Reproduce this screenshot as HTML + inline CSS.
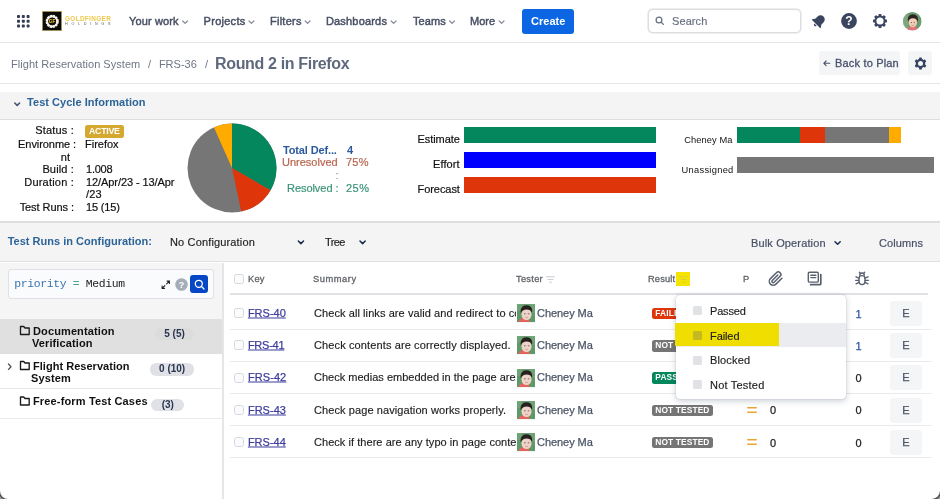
<!DOCTYPE html>
<html lang="en">
<head>
<meta charset="utf-8">
<title>Round 2 in Firefox - Test Cycle</title>
<style>
*{box-sizing:border-box;margin:0;padding:0}
html,body{width:940px;height:499px;overflow:hidden;background:#b4b4b4}
body{font-family:"Liberation Sans",Arial,sans-serif;font-size:12px;color:#172b4d;position:relative;-webkit-font-smoothing:antialiased}
#app{position:absolute;left:0;top:0;width:940px;height:499px;background:#fff;border-radius:0 0 8.3px 8px;overflow:hidden;box-shadow:0 0 0 1.3px #505050,0 0 2.5px 1.5px #707070}
.t{position:absolute;white-space:nowrap;line-height:1;transform:translateY(-50%)}
.r{text-align:right;transform:translate(-100%,-50%)}
.c{text-align:center;transform:translate(-50%,-50%)}
.b{font-weight:700}
.m{-webkit-text-stroke:0.45px currentColor}
.box{position:absolute}
.hl{position:absolute;height:1px;background:#e3e4e8}
svg{position:absolute;overflow:visible}
/* nav */
.nav{color:#485064;font-size:11px}
.chev{position:absolute;width:6px;height:4px}
/* breadcrumbs */
.bc{color:#6f7685;font-size:11px}
/* info */
.lab{font-size:11px;color:#111;-webkit-text-stroke:0.2px #111}
.val{font-size:11px;color:#111;-webkit-text-stroke:0.2px #111}
/* table */
.th{font-size:9.3px;color:#5f6368;-webkit-text-stroke:0.3px #5f6368}
.key{font-size:11px;color:#3d3c9e;text-decoration:underline;-webkit-text-stroke:0.25px #3d3c9e;text-decoration-thickness:0.8px;text-underline-offset:1.3px}
.sum{font-size:11px;color:#1d1d1f;-webkit-text-stroke:0.15px #1d1d1f}
.tester{font-size:11px;color:#4b5567;-webkit-text-stroke:0.25px #4b5567}
.badge{position:absolute;height:11.6px;border-radius:2.5px;color:#fff;font-weight:700;font-size:8.4px;line-height:11.9px;padding:0 3.4px 0 3.5px;white-space:nowrap;letter-spacing:.12px}
.cb{position:absolute;width:10px;height:10px;border:1px solid #d5d8dd;border-radius:2.5px;background:#fafbfc}
.ebtn{position:absolute;left:890px;width:32px;height:25px;background:#f4f5f7;border-radius:3px;color:#4b5567;font-size:11px;text-align:center;line-height:25px;-webkit-text-stroke:0.25px currentColor}
.num{font-size:11px;color:#222;-webkit-text-stroke:0.25px currentColor}
.cnt{position:absolute;height:12.4px;border-radius:6.2px;background:#dfe1e6;color:#2a3550;font-weight:700;font-size:10px;line-height:12.6px;text-align:center}
.tree{font-size:11px;font-weight:700;color:#111}
.dd{font-size:11px;color:#1d1d1f;-webkit-text-stroke:0.15px currentColor}
.sq{position:absolute;left:693px;width:9px;height:9px;background:#e1e2e6;border-radius:1.5px}
</style>
</head>
<body>
<div id="app">

<!-- ============ TOP NAV ============ -->
<div class="box" style="left:0;top:0;width:940px;height:42px;background:#fff"></div>
<div class="hl" style="left:0;top:42px;width:940px;background:#e4e5e9"></div>
<svg style="left:17px;top:15px" width="13" height="13" viewBox="0 0 13 13">
  <g fill="#343d52">
    <rect x="0" y="0" width="3" height="3" rx=".8"/><rect x="4.8" y="0" width="3" height="3" rx=".8"/><rect x="9.6" y="0" width="3" height="3" rx=".8"/>
    <rect x="0" y="4.8" width="3" height="3" rx=".8"/><rect x="4.8" y="4.8" width="3" height="3" rx=".8"/><rect x="9.6" y="4.8" width="3" height="3" rx=".8"/>
    <rect x="0" y="9.6" width="3" height="3" rx=".8"/><rect x="4.8" y="9.6" width="3" height="3" rx=".8"/><rect x="9.6" y="9.6" width="3" height="3" rx=".8"/>
  </g>
</svg>
<!-- logo -->
<svg style="left:41.5px;top:11px" width="20" height="20" viewBox="0 0 20 20">
  <rect x=".3" y=".3" width="19.4" height="19.4" fill="#0a0a0a" stroke="#d9b65c" stroke-width=".6"/>
  <circle cx="10.2" cy="10.4" r="5.3" fill="none" stroke="#f5f3ec" stroke-width="2.6" stroke-dasharray="2.2 .55"/>
  <circle cx="10.2" cy="10.4" r="5" fill="none" stroke="#f5f3ec" stroke-width="1.6"/>
  <circle cx="10.2" cy="10.4" r="3.7" fill="#17140c"/>
  <text x="10.2" y="12.1" font-size="4.8" font-weight="700" fill="#f0c53f" text-anchor="middle" font-family="Liberation Sans, sans-serif">GF</text>
</svg>
<div class="t b" id="gold" style="left:65.0px;top:19.4px;font-size:6.4px;color:#efc94c;letter-spacing:0.35px">GOLDFINGER</div>
<div class="t" id="hold" style="left:65.0px;top:24.6px;font-size:3.7px;color:#5a5a5a;letter-spacing:3.73px">HOLDINGS</div>

<div class="t nav m" id="n1" style="left:129.1px;top:21px;letter-spacing:0.12px">Your work</div>
<div class="t nav m" id="n2" style="left:203.6px;top:21px;letter-spacing:0.27px">Projects</div>
<div class="t nav m" id="n3" style="left:270.0px;top:21px;letter-spacing:0.25px">Filters</div>
<div class="t nav m" id="n4" style="left:325.9px;top:21px;letter-spacing:0.19px">Dashboards</div>
<div class="t nav m" id="n5" style="left:413.0px;top:21px;letter-spacing:0.09px">Teams</div>
<div class="t nav m" id="n6" style="left:470.0px;top:21px;letter-spacing:0.00px">More</div>
<svg width="940" height="42" style="left:0;top:0" fill="none" stroke="#858b98" stroke-width="1.2" stroke-linecap="round" stroke-linejoin="round">
  <path d="M182.7 21l2.4 2.4 2.4-2.4"/>
  <path d="M249.0 21l2.4 2.4 2.4-2.4"/>
  <path d="M305.2 21l2.4 2.4 2.4-2.4"/>
  <path d="M391.2 21l2.4 2.4 2.4-2.4"/>
  <path d="M449.7 21l2.4 2.4 2.4-2.4"/>
  <path d="M499.2 21l2.4 2.4 2.4-2.4"/>
</svg>
<div class="box" style="left:522px;top:9px;width:52px;height:24.5px;background:#0c66e4;border-radius:3px"></div>
<div class="t b" id="create" style="left:531.0px;top:21px;font-size:11px;color:#fff;letter-spacing:0.03px">Create</div>

<div class="box" style="left:648px;top:8.8px;width:153px;height:24.4px;border:1.6px solid #dcdde1;border-radius:4.5px;background:#fff;box-shadow:0 0 0 .5px rgba(120,120,130,.25)"></div>
<svg style="left:655.3px;top:16.4px" width="9.6" height="9.6" viewBox="0 0 12 12" fill="none" stroke="#667085" stroke-width="1.6" stroke-linecap="round"><circle cx="5" cy="5" r="3.6"/><path d="M7.8 7.8l2.7 2.7"/></svg>
<div class="t" id="search" style="left:672.0px;top:21px;font-size:11px;color:#6b7280;letter-spacing:0.09px;-webkit-text-stroke:0.2px #6b7280">Search</div>

<!-- bell -->
<svg style="left:810px;top:12px" width="18" height="18" viewBox="0 0 18 18">
  <g transform="rotate(45 9 9)" fill="#3a4660">
    <path d="M9 2.6c-2.5 0-4.2 1.800-4.2 4.300v3.1L3.1 12.2c-.3.5 0 1 .6 1h10.6c.6 0 .9-.5.6-1l-1.700-2.2V6.900C13.2 4.400 11.5 2.6 9 2.6z"/>
    <path d="M7.400 14a1.6 1.6 0 0 0 3.2 0z"/>
  </g>
</svg>
<!-- help -->
<svg style="left:841px;top:13px" width="16" height="16" viewBox="0 0 16 16">
  <circle cx="8" cy="8" r="7.9" fill="#3a4660"/>
  <text x="8" y="12.3" font-size="12" font-weight="700" fill="#fff" text-anchor="middle" font-family="Liberation Sans, sans-serif">?</text>
</svg>
<!-- gear -->
<svg style="left:871.7px;top:13px" width="16" height="16" viewBox="0 0 16 16">
  <g transform="translate(8 8)">
    <g fill="#3a4660">
      <rect x="-1.5" y="-7" width="3" height="14" rx=".7"/>
      <rect x="-1.5" y="-7" width="3" height="14" rx=".7" transform="rotate(45)"/>
      <rect x="-1.5" y="-7" width="3" height="14" rx=".7" transform="rotate(90)"/>
      <rect x="-1.5" y="-7" width="3" height="14" rx=".7" transform="rotate(135)"/>
      <circle r="5.6"/>
    </g>
    <circle r="3.6" fill="#fff"/>
  </g>
</svg>
<!-- avatar round -->
<svg style="left:903px;top:11.8px" width="18.6" height="18.6" viewBox="0 0 19 19">
  <defs><clipPath id="avc"><circle cx="9.5" cy="9.5" r="9.5"/></clipPath></defs>
  <g clip-path="url(#avc)">
    <rect width="19" height="19" fill="#6a9a70"/>
    <rect x="0" y="0" width="5" height="19" fill="#84ad86" opacity=".7"/>
    <path d="M3.5 19c.6-2.7 3-4.2 6.3-4.2s6 1.500 6.7 4.2z" fill="#e4727a"/>
    <ellipse cx="10" cy="10.6" rx="4.3" ry="5.1" fill="#f3cdb8"/>
    <path d="M5.2 10.3C4 5.2 6.6 2.3 10.1 2.3s6.3 2.900 5 8c-.7-2.7-2.3-3.800-5-3.800s-4.1 1.3-4.900 3.800z" fill="#2b2422"/>
    <path d="M8 10.800h1.2M11 10.800h1.2" stroke="#4a3a34" stroke-width=".7" fill="none"/>
    <path d="M8.6 13.400q1.500 1 3 0" stroke="#c9807a" stroke-width=".7" fill="none"/>
  </g>
</svg>

<!-- ============ BREADCRUMB ============ -->
<div class="t bc" id="bc1" style="left:11.1px;top:64.4px;letter-spacing:0.03px">Flight Reservation System</div>
<div class="t bc" id="bc2" style="left:148.0px;top:64.4px;letter-spacing:0.00px">/</div>
<div class="t bc" id="bc3" style="left:158.9px;top:64.4px;letter-spacing:0.00px">FRS-36</div>
<div class="t bc" id="bc4" style="left:205.0px;top:64.4px;letter-spacing:0.00px">/</div>
<div class="t b" id="title" style="left:215.0px;top:63.5px;font-size:16px;color:#5f697d;letter-spacing:-0.34px">Round 2 in Firefox</div>
<div class="box" style="left:818.5px;top:51px;width:81.5px;height:24px;background:#f4f5f7;border-radius:3px"></div>
<svg style="left:822.6px;top:60.2px" width="7.4" height="6.6" viewBox="0 0 9 8" fill="none" stroke="#47526a" stroke-width="1.35" stroke-linecap="round" stroke-linejoin="round"><path d="M8.3 4H1M3.8 1.2L1 4l2.8 2.8"/></svg>
<div class="t" id="back" style="left:835.0px;top:63px;font-size:11px;color:#47526a;letter-spacing:0.18px;-webkit-text-stroke:0.3px #47526a">Back to Plan</div>
<div class="box" style="left:908px;top:51px;width:24px;height:24px;background:#f4f5f7;border-radius:3px"></div>
<svg style="left:913.5px;top:57px" width="13" height="13" viewBox="0 0 13 13">
  <g transform="translate(6.5 6.5)">
    <g fill="#344563">
      <rect x="-1.4" y="-6" width="2.8" height="12" rx=".6"/>
      <rect x="-1.4" y="-6" width="2.8" height="12" rx=".6" transform="rotate(60)"/>
      <rect x="-1.4" y="-6" width="2.8" height="12" rx=".6" transform="rotate(120)"/>
      <circle r="4.7"/>
    </g>
    <circle r="2.5" fill="#f4f5f7"/>
  </g>
</svg>
<div class="hl" style="left:0;top:83px;width:940px;background:#e6e7ea"></div>

<!-- ============ SECTION HEADER ============ -->
<div class="box" style="left:0;top:91.5px;width:940px;height:27px;background:#f4f4f4"></div>
<div class="hl" style="left:0;top:118.5px;width:940px;height:1.5px;background:#dedede"></div>
<svg style="left:14px;top:102.3px" width="6.4" height="4.8" viewBox="0 0 8 6" fill="none" stroke="#44506a" stroke-width="1.9" stroke-linecap="round" stroke-linejoin="round"><path d="M1 1.2l3 3 3-3"/></svg>
<div class="t b" id="tci" style="left:27.1px;top:102px;font-size:11px;color:#2d6498;letter-spacing:0.03px">Test Cycle Information</div>

<!-- ============ INFO PANEL ============ -->
<div class="t lab r" id="l1" style="left:74.0px;top:129.8px;letter-spacing:0.19px">Status :</div>
<div class="t lab r" id="l2" style="left:76.0px;top:143.8px;letter-spacing:-0.07px">Environme :</div>
<div class="t lab r" id="l2b" style="left:70.0px;top:157.3px;letter-spacing:0.00px">nt</div>
<div class="t lab r" id="l3" style="left:74.0px;top:168.8px;letter-spacing:0.15px">Build :</div>
<div class="t lab r" id="l4" style="left:74.0px;top:182.3px;letter-spacing:0.20px">Duration :</div>
<div class="t lab r" id="l5" style="left:74.0px;top:206.8px;letter-spacing:-0.06px">Test Runs :</div>
<div class="box" style="left:85px;top:125px;width:39px;height:12.5px;background:#d5a92f;border-radius:2.5px"></div>
<div class="t b" id="active" style="left:89.0px;top:131.3px;font-size:8.8px;color:#fff;letter-spacing:-0.27px">ACTIVE</div>
<div class="t val" id="v2" style="left:85.0px;top:143.8px;letter-spacing:0.00px">Firefox</div>
<div class="t val" id="v3" style="left:86.0px;top:168.8px;letter-spacing:-0.23px">1.008</div>
<div class="t val" id="v4" style="left:86.0px;top:182.3px;letter-spacing:-0.08px">12/Apr/23 - 13/Apr</div>
<div class="t val" id="v4b" style="left:86.0px;top:194.3px;letter-spacing:0.21px">/23</div>
<div class="t val" id="v5" style="left:86.0px;top:206.8px;letter-spacing:-0.15px">15 (15)</div>

<!-- pie -->
<svg style="left:187.2px;top:123.3px" width="90" height="90" viewBox="-45 -45 90 90">
  <circle r="44.5" fill="#767676"/>
  <path d="M0 0L0 -44.5A44.5 44.5 0 0 1 38.54 22.25Z" fill="#04875c"/>
  <path d="M0 0L38.54 22.25A44.5 44.5 0 0 1 9.25 43.53Z" fill="#de350b"/>
  <path d="M0 0L-18.1 -40.65A44.5 44.5 0 0 1 0 -44.5Z" fill="#ffab00"/>
</svg>
<div class="t b" id="s1" style="left:283.0px;top:149.5px;font-size:11px;color:#2a5a9c;letter-spacing:-0.14px">Total Def...</div>
<div class="t b" id="s1v" style="left:347.0px;top:149.5px;font-size:11px;color:#2a5a9c;letter-spacing:0.00px">4</div>
<div class="t" id="s2" style="left:282.0px;top:162.3px;font-size:11px;color:#b9654f;letter-spacing:0.00px;-webkit-text-stroke:0.2px #b9654f">Unresolved</div>
<div class="t" id="s2v" style="left:346.0px;top:162.3px;font-size:11px;color:#b9654f;letter-spacing:0.20px;-webkit-text-stroke:0.2px #b9654f">75%</div>
<div class="t" id="s2c" style="left:335.5px;top:174.5px;font-size:11px;color:#8c7d78">:</div>
<div class="t" id="s3" style="left:287.0px;top:188.3px;font-size:11px;color:#3b9479;letter-spacing:-0.05px;-webkit-text-stroke:0.2px #3b9479">Resolved :</div>
<div class="t" id="s3v" style="left:346.0px;top:188.3px;font-size:11px;color:#3b9479;letter-spacing:0.45px;-webkit-text-stroke:0.2px #3b9479">25%</div>

<!-- bars -->
<div class="t lab r" id="e1" style="left:459.8px;top:139.2px;letter-spacing:-0.06px">Estimate</div>
<div class="t lab r" id="e2" style="left:459.8px;top:164.2px;letter-spacing:0.13px">Effort</div>
<div class="t lab r" id="e3" style="left:459.8px;top:189.2px;letter-spacing:-0.07px">Forecast</div>
<div class="box" style="left:464.2px;top:127px;width:192px;height:16px;background:#04875c"></div>
<div class="box" style="left:464.2px;top:152px;width:192px;height:16px;background:#0000fe"></div>
<div class="box" style="left:464.2px;top:177px;width:192px;height:16px;background:#de350b"></div>

<div class="t r" id="a1" style="left:732.6px;top:140.9px;font-size:9.3px;color:#111;letter-spacing:0.10px">Cheney Ma</div>
<div class="t r" id="a2" style="left:733.6px;top:170.6px;font-size:9.3px;color:#111;letter-spacing:0.30px">Unassigned</div>
<div class="box" style="left:737px;top:127px;width:64px;height:16px;background:#04875c"></div>
<div class="box" style="left:800px;top:127px;width:26px;height:16px;background:#de350b"></div>
<div class="box" style="left:825.3px;top:127px;width:64px;height:16px;background:#767676"></div>
<div class="box" style="left:888.5px;top:127px;width:12.7px;height:16px;background:#ffab00"></div>
<div class="box" style="left:737px;top:157px;width:197px;height:16px;background:#767676"></div>

<!-- ============ TOOLBAR ============ -->
<div class="hl" style="left:0;top:221px;width:940px;height:1.5px;background:#dedede"></div>
<div class="box" style="left:0;top:222.5px;width:940px;height:39px;background:#f4f4f5"></div>
<div class="hl" style="left:0;top:261px;width:940px;height:1.3px;background:#e0e0e2"></div>
<div class="t b" id="trc" style="left:7.7px;top:240.5px;font-size:11px;color:#2d6498;letter-spacing:0.01px">Test Runs in Configuration:</div>
<div class="t" id="noc" style="left:170.0px;top:242px;font-size:11px;color:#1d1d1f;letter-spacing:0.15px;-webkit-text-stroke:0.15px #1d1d1f">No Configuration</div>
<div class="t" id="tree" style="left:325.0px;top:242px;font-size:11px;color:#1d1d1f;letter-spacing:-0.60px;-webkit-text-stroke:0.15px #1d1d1f">Tree</div>
<div class="t" id="bulk" style="left:751.0px;top:242.5px;font-size:11px;color:#475066;letter-spacing:0.14px;-webkit-text-stroke:0.2px #475066">Bulk Operation</div>
<div class="t" id="cols" style="left:879.0px;top:242.5px;font-size:11px;color:#475066;letter-spacing:0.10px;-webkit-text-stroke:0.2px #475066">Columns</div>
<svg width="940" height="20" style="left:0;top:232px" fill="none" stroke="#172b4d" stroke-width="1.5" stroke-linecap="round" stroke-linejoin="round">
  <path d="M298.3 9l2.6 2.6 2.6-2.6"/>
  <path d="M360 9l2.6 2.6 2.6-2.6"/>
  <path d="M835 9.7l2.6 2.6 2.6-2.6"/>
</svg>

<!-- ============ LEFT PANEL ============ -->
<div class="box" style="left:0;top:262.5px;width:222px;height:57px;background:#f5f5f6"></div>
<div class="box" style="left:222px;top:262.5px;width:1.5px;height:237px;background:#e6e6e8"></div>
<div class="box" style="left:8px;top:269px;width:206px;height:29.5px;background:#fafbfc;border:1px solid #dfe1e6;border-radius:3px"></div>
<div class="t" id="jql" style="left:14.2px;top:284.6px;font-family:'Liberation Mono','DejaVu Sans Mono',monospace;font-size:11.4px;color:#222;letter-spacing:-0.34px"><span style="color:#3b73af">priority</span> <span style="color:#4aa68a">=</span> Medium</div>
<svg style="left:160.7px;top:279.7px" width="9.5" height="9.5" viewBox="0 0 11 11" fill="none" stroke="#222" stroke-width="1.3" stroke-linecap="round"><path d="M6.5 4.5l3-3M7 1.3h2.7v2.7M4.5 6.5l-3 3M1.3 7v2.7h2.7" /></svg>
<svg style="left:174.5px;top:277.5px" width="13" height="13" viewBox="0 0 13 13"><circle cx="6.5" cy="6.5" r="6.3" fill="#a5adba"/><text x="6.5" y="9.8" font-size="9" font-weight="700" fill="#fff" text-anchor="middle" font-family="Liberation Sans, sans-serif">?</text></svg>
<div class="box" style="left:190px;top:275px;width:18px;height:18px;background:#0747c5;border-radius:3px"></div>
<svg style="left:193.5px;top:278.5px" width="11" height="11" viewBox="0 0 11 11" fill="none" stroke="#fff" stroke-width="1.3" stroke-linecap="round"><circle cx="4.8" cy="4.8" r="3.5"/><path d="M7.5 7.5l2.5 2.5"/></svg>

<div class="box" style="left:0;top:318.5px;width:222px;height:35.5px;background:#e0e0e0"></div>
<div class="hl" style="left:0;top:388px;width:222px;background:#e9e9eb"></div>
<div class="hl" style="left:0;top:418px;width:222px;background:#e9e9eb"></div>
<svg width="222" height="110" style="left:0;top:317.7px" fill="none" stroke="#1a1a1a" stroke-width="1.35" stroke-linejoin="round">
  <path d="M20.5 8.5h3.2l1.3 1.5h4.2v6.5h-8.7z"/>
  <path d="M20.5 43.5h3.2l1.3 1.5h4.2v6.5h-8.7z"/>
  <path d="M20.5 79h3.2l1.3 1.5h4.2v6.5h-8.7z"/>
  <path d="M8.5 46l2.5 2.7-2.5 2.7" stroke="#555" stroke-linecap="round"/>
</svg>
<div class="t tree" id="t1" style="left:33.0px;top:330.5px;letter-spacing:0.12px">Documentation</div>
<div class="t tree" id="t1b" style="left:31.9px;top:343.0px;letter-spacing:0.12px">Verification</div>
<div class="t tree" id="t2" style="left:33.0px;top:365.5px;letter-spacing:0.03px">Flight Reservation</div>
<div class="t tree" id="t2b" style="left:30.9px;top:378.0px;letter-spacing:0.16px">System</div>
<div class="t tree" id="t3" style="left:33.0px;top:401.3px;letter-spacing:0.15px">Free-form Test Cases</div>
<div class="cnt" id="c1" style="left:155px;top:327.8px;width:39px;background:#dcdcdc">5 (5)</div>
<div class="cnt" id="c2" style="left:150px;top:363.2px;width:44.3px">0 (10)</div>
<div class="cnt" id="c3" style="left:151.3px;top:398.6px;width:33px">(3)</div>

<!-- ============ TABLE ============ -->
<div class="cb" style="left:234.2px;top:274.2px"></div>
<div class="t th" id="h1" style="left:248.1px;top:279.7px;letter-spacing:0.20px">Key</div>
<div class="t th" id="h2" style="left:313.1px;top:279.7px;letter-spacing:0.54px">Summary</div>
<div class="t th" id="h3" style="left:516.0px;top:279.7px;letter-spacing:0.27px">Tester</div>
<div class="t th" id="h4" style="left:648.0px;top:279.7px;letter-spacing:0.15px">Result</div>
<div class="t th" id="h5" style="left:743.0px;top:279.7px;font-size:9.3px;letter-spacing:0.00px">P</div>
<svg style="left:545.5px;top:276px" width="9" height="7" viewBox="0 0 9 7" fill="none" stroke="#c7cbd3" stroke-width="1" stroke-linecap="round"><path d="M.5 .8h8M2 3.5h5M3.5 6.2h2"/></svg>
<div class="box" style="left:676px;top:272px;width:14px;height:14px;background:#f5e400"></div>
<svg style="left:678.5px;top:276px" width="9" height="7" viewBox="0 0 9 7" fill="none" stroke="#d9cf3a" stroke-width="1" stroke-linecap="round"><path d="M.5 .8h8M2 3.5h5M3.5 6.2h2"/></svg>
<svg style="left:767.6px;top:270.6px" width="15.6" height="15.6" viewBox="0 0 24 24" fill="none" stroke="#59616f" stroke-width="2.3" stroke-linecap="round" stroke-linejoin="round"><path d="M21.44 11.05l-9.19 9.19a6 6 0 0 1-8.49-8.49l9.19-9.19a4 4 0 0 1 5.66 5.66l-9.2 9.19a2 2 0 0 1-2.83-2.83l8.49-8.48"/></svg>
<svg style="left:806.5px;top:271.3px" width="16" height="16" viewBox="0 0 16 16" fill="none" stroke="#59616f" stroke-width="1.4" stroke-linejoin="round" stroke-linecap="round"><rect x="1.3" y="1.3" width="10" height="9.8" rx="1.2"/><path d="M3.8 4.3h5M3.8 6.6h5"/><path d="M13.8 3.5v9.2a1 1 0 0 1-1 1H3.6" stroke-width="1.7"/></svg>
<svg style="left:853.5px;top:270.8px" width="16" height="16" viewBox="0 0 16 16" fill="none" stroke="#59616f" stroke-width="1.35" stroke-linecap="round" stroke-linejoin="round"><rect x="5" y="4.6" width="6" height="9" rx="3"/><path d="M5.7 4.3a2.3 2.3 0 0 1 4.6 0"/><path d="M6.3 2.4L5.4 1.3M9.7 2.4l.9-1.100"/><path d="M5 7.2L2 5.8M5 9.3H1.6M5 11.3l-3 1.5M11 7.2l3-1.4M11 9.3h3.4M11 11.3l3 1.5"/></svg>
<div class="hl" style="left:230px;top:293px;width:698px;height:1.5px;background:#e0e1e4"></div>
<div class="hl" style="left:230px;top:328.5px;width:702px;background:#e9eaed"></div>
<div class="cb" style="left:234.2px;top:308.1px"></div>
<div class="t key" id="k1" style="left:247.9px;top:312.9px;letter-spacing:0.00px">FRS-40</div>
<div class="t sum" id="m1" style="left:314.0px;top:312.9px;width:202px;overflow:hidden;padding:2px 0;box-sizing:content-box;letter-spacing:0.08px"><span id="mi1">Check all links are valid and redirect to co</span></div>
<svg style="left:516.8px;top:304.2px" width="18" height="18.2" viewBox="0 0 18 18"><rect width="18" height="18" fill="#5f9869"/><path d="M0 0h5v7H0zM13 0h5v9h-5z" fill="#78ad7f" opacity=".55"/><path d="M1.5 18c.3-2.6 2.4-4 5.6-4s5.4 1.5 5.7 4z" fill="#e2645f"/><ellipse cx="9.5" cy="10.3" rx="5" ry="5.7" fill="#edd3c8"/><path d="M3.8 9.2C2.8 4.2 5.7 1.2 9.4 1.2s6.9 2.7 5.6 7.8c-.8-2.4-2.6-3.5-5.4-3.5s-4.7 1.2-5.8 3.7z" fill="#27211f"/><path d="M7 9.7h1.6M10.8 9.7h1.6" stroke="#5b4a44" stroke-width=".8" fill="none"/><path d="M8 13q1.6 1.1 3.2 0" stroke="#d38f88" stroke-width=".8" fill="none"/></svg>
<div class="t tester" id="p1" style="left:537.0px;top:312.9px;letter-spacing:-0.05px">Cheney Ma</div>
<div class="badge" id="b1" style="left:651.8px;top:307.9px;background:#de350b">FAILED</div>
<div class="t num" id="d1" style="left:855.5px;top:313.6px;color:#2a5a9c">1</div>
<div class="ebtn" style="top:301.0px">E</div>
<div class="hl" style="left:230px;top:360.7px;width:702px;background:#e9eaed"></div>
<div class="cb" style="left:234.2px;top:340.3px"></div>
<div class="t key" id="k2" style="left:247.9px;top:345.1px;letter-spacing:-0.24px">FRS-41</div>
<div class="t sum" id="m2" style="left:314.0px;top:345.1px;width:202px;overflow:hidden;padding:2px 0;box-sizing:content-box;letter-spacing:0.12px"><span id="mi2">Check contents are correctly displayed.</span></div>
<svg style="left:516.8px;top:336.4px" width="18" height="18.2" viewBox="0 0 18 18"><rect width="18" height="18" fill="#5f9869"/><path d="M0 0h5v7H0zM13 0h5v9h-5z" fill="#78ad7f" opacity=".55"/><path d="M1.5 18c.3-2.6 2.4-4 5.6-4s5.4 1.5 5.7 4z" fill="#e2645f"/><ellipse cx="9.5" cy="10.3" rx="5" ry="5.7" fill="#edd3c8"/><path d="M3.8 9.2C2.8 4.2 5.7 1.2 9.4 1.2s6.9 2.7 5.6 7.8c-.8-2.4-2.6-3.5-5.4-3.5s-4.7 1.2-5.8 3.7z" fill="#27211f"/><path d="M7 9.7h1.6M10.8 9.7h1.6" stroke="#5b4a44" stroke-width=".8" fill="none"/><path d="M8 13q1.6 1.1 3.2 0" stroke="#d38f88" stroke-width=".8" fill="none"/></svg>
<div class="t tester" id="p2" style="left:537.0px;top:345.1px;letter-spacing:-0.05px">Cheney Ma</div>
<div class="badge" id="b2" style="left:651.8px;top:340.1px;background:#757575">NOT TESTED</div>
<div class="t num" id="d2" style="left:855.5px;top:345.8px;color:#2a5a9c">1</div>
<div class="ebtn" style="top:333.2px">E</div>
<div class="hl" style="left:230px;top:392.9px;width:702px;background:#e9eaed"></div>
<div class="cb" style="left:234.2px;top:372.5px"></div>
<div class="t key" id="k3" style="left:247.9px;top:377.3px;letter-spacing:0.09px">FRS-42</div>
<div class="t sum" id="m3" style="left:314.0px;top:377.3px;width:202px;overflow:hidden;padding:2px 0;box-sizing:content-box;letter-spacing:0.013px"><span id="mi3">Check medias embedded in the page are</span></div>
<svg style="left:516.8px;top:368.6px" width="18" height="18.2" viewBox="0 0 18 18"><rect width="18" height="18" fill="#5f9869"/><path d="M0 0h5v7H0zM13 0h5v9h-5z" fill="#78ad7f" opacity=".55"/><path d="M1.5 18c.3-2.6 2.4-4 5.6-4s5.4 1.5 5.7 4z" fill="#e2645f"/><ellipse cx="9.5" cy="10.3" rx="5" ry="5.7" fill="#edd3c8"/><path d="M3.8 9.2C2.8 4.2 5.7 1.2 9.4 1.2s6.9 2.7 5.6 7.8c-.8-2.4-2.6-3.5-5.4-3.5s-4.7 1.2-5.8 3.7z" fill="#27211f"/><path d="M7 9.7h1.6M10.8 9.7h1.6" stroke="#5b4a44" stroke-width=".8" fill="none"/><path d="M8 13q1.6 1.1 3.2 0" stroke="#d38f88" stroke-width=".8" fill="none"/></svg>
<div class="t tester" id="p3" style="left:537.0px;top:377.3px;letter-spacing:-0.05px">Cheney Ma</div>
<div class="badge" id="b3" style="left:651.8px;top:372.3px;background:#04875c">PASSED</div>
<div class="t num" id="d3" style="left:855.5px;top:378.0px;color:#222">0</div>
<div class="ebtn" style="top:365.4px">E</div>
<div class="hl" style="left:230px;top:425.2px;width:702px;background:#e9eaed"></div>
<div class="cb" style="left:234.2px;top:404.8px"></div>
<div class="t key" id="k4" style="left:247.9px;top:409.6px;letter-spacing:0.02px">FRS-43</div>
<div class="t sum" id="m4" style="left:314.0px;top:409.6px;width:202px;overflow:hidden;padding:2px 0;box-sizing:content-box;letter-spacing:0.09px"><span id="mi4">Check page navigation works properly.</span></div>
<svg style="left:516.8px;top:400.9px" width="18" height="18.2" viewBox="0 0 18 18"><rect width="18" height="18" fill="#5f9869"/><path d="M0 0h5v7H0zM13 0h5v9h-5z" fill="#78ad7f" opacity=".55"/><path d="M1.5 18c.3-2.6 2.4-4 5.6-4s5.4 1.5 5.7 4z" fill="#e2645f"/><ellipse cx="9.5" cy="10.3" rx="5" ry="5.7" fill="#edd3c8"/><path d="M3.8 9.2C2.8 4.2 5.7 1.2 9.4 1.2s6.9 2.7 5.6 7.8c-.8-2.4-2.6-3.5-5.4-3.5s-4.7 1.2-5.8 3.7z" fill="#27211f"/><path d="M7 9.7h1.6M10.8 9.7h1.6" stroke="#5b4a44" stroke-width=".8" fill="none"/><path d="M8 13q1.6 1.1 3.2 0" stroke="#d38f88" stroke-width=".8" fill="none"/></svg>
<div class="t tester" id="p4" style="left:537.0px;top:409.6px;letter-spacing:-0.05px">Cheney Ma</div>
<div class="badge" id="b4" style="left:651.8px;top:404.6px;background:#757575">NOT TESTED</div>
<svg style="left:747px;top:406.0px" width="10" height="8" viewBox="0 0 10 8" fill="none" stroke="#e8a735" stroke-width="1.6" stroke-linecap="round"><path d="M.8 1.700h8.400M.8 6.3h8.400"/></svg>
<div class="t num" id="q4" style="left:770.1px;top:410.3px">0</div>
<div class="t num" id="d4" style="left:855.5px;top:410.3px;color:#222">0</div>
<div class="ebtn" style="top:397.7px">E</div>
<div class="hl" style="left:230px;top:457.4px;width:702px;background:#e9eaed"></div>
<div class="cb" style="left:234.2px;top:437.0px"></div>
<div class="t key" id="k5" style="left:247.9px;top:441.8px;letter-spacing:0.00px">FRS-44</div>
<div class="t sum" id="m5" style="left:314.0px;top:441.8px;width:202px;overflow:hidden;padding:2px 0;box-sizing:content-box;letter-spacing:0.048px"><span id="mi5">Check if there are any typo in page conte</span></div>
<svg style="left:516.8px;top:433.1px" width="18" height="18.2" viewBox="0 0 18 18"><rect width="18" height="18" fill="#5f9869"/><path d="M0 0h5v7H0zM13 0h5v9h-5z" fill="#78ad7f" opacity=".55"/><path d="M1.5 18c.3-2.6 2.4-4 5.6-4s5.4 1.5 5.7 4z" fill="#e2645f"/><ellipse cx="9.5" cy="10.3" rx="5" ry="5.7" fill="#edd3c8"/><path d="M3.8 9.2C2.8 4.2 5.7 1.2 9.4 1.2s6.9 2.7 5.6 7.8c-.8-2.4-2.6-3.5-5.4-3.5s-4.7 1.2-5.8 3.7z" fill="#27211f"/><path d="M7 9.7h1.6M10.8 9.7h1.6" stroke="#5b4a44" stroke-width=".8" fill="none"/><path d="M8 13q1.6 1.1 3.2 0" stroke="#d38f88" stroke-width=".8" fill="none"/></svg>
<div class="t tester" id="p5" style="left:537.0px;top:441.8px;letter-spacing:-0.05px">Cheney Ma</div>
<div class="badge" id="b5" style="left:651.8px;top:436.8px;background:#757575">NOT TESTED</div>
<svg style="left:747px;top:438.2px" width="10" height="8" viewBox="0 0 10 8" fill="none" stroke="#e8a735" stroke-width="1.6" stroke-linecap="round"><path d="M.8 1.700h8.400M.8 6.3h8.400"/></svg>
<div class="t num" id="q5" style="left:770.1px;top:442.5px">0</div>
<div class="t num" id="d5" style="left:855.5px;top:442.5px;color:#222">0</div>
<div class="ebtn" style="top:429.9px">E</div>

<!-- ============ RESULT FILTER DROPDOWN ============ -->
<div class="box" style="left:676px;top:294.5px;width:169.5px;height:104.5px;background:#fff;border-radius:4px;box-shadow:0 2px 6px rgba(9,30,66,.22),0 0 1px rgba(9,30,66,.35)"></div>
<div class="box" style="left:676px;top:322.5px;width:169.5px;height:24.3px;background:#ebecf0"></div>
<div class="box" style="left:675.3px;top:322.7px;width:104.1px;height:23.8px;background:#f0de00"></div>
<div class="sq" style="top:306.3px;background:#e1e2e6"></div>
<div class="t dd" id="o1" style="left:710.0px;top:311.1px;letter-spacing:-0.18px">Passed</div>
<div class="sq" style="top:330.7px;background:#c4b921"></div>
<div class="t dd" id="o2" style="left:710.0px;top:335.5px;letter-spacing:-0.09px">Failed</div>
<div class="sq" style="top:355.5px;background:#e1e2e6"></div>
<div class="t dd" id="o3" style="left:710.0px;top:360.3px;letter-spacing:0.15px">Blocked</div>
<div class="sq" style="top:380.0px;background:#e1e2e6"></div>
<div class="t dd" id="o4" style="left:710.0px;top:384.8px;letter-spacing:0.21px">Not Tested</div>

</div>
</body>
</html>
